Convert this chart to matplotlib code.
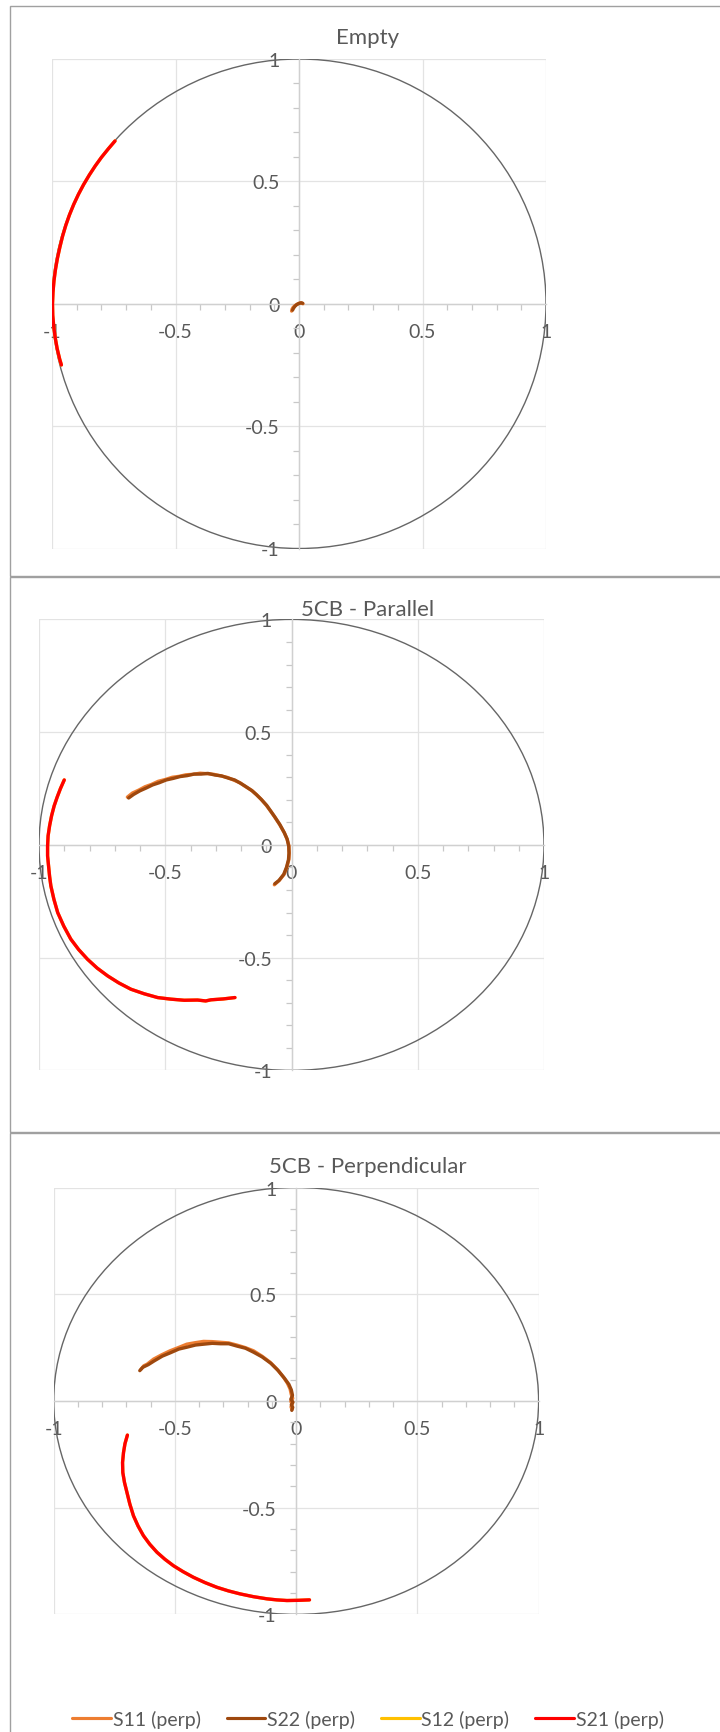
import matplotlib
matplotlib.use("Agg")
import matplotlib.pyplot as plt
from matplotlib.patches import Circle, Rectangle
from matplotlib.ticker import MultipleLocator

TITLES = ["Empty", "5CB - Parallel", "5CB - Perpendicular"]
SERIES = ["S11 (perp)", "S22 (perp)", "S12 (perp)", "S21 (perp)"]
COLORS = ["#ED7D31", "#9E480E", "#FFC000", "#FF0000"]
TICKS = [-1, -0.5, 0, 0.5, 1]
TICK_LABELS = ["-1", "-0.5", "0", "0.5", "1"]

# Panel 1: Empty
EMPTY_S11_RE = [-0.030, -0.028, -0.024, -0.018, -0.011, -0.004, 0.003, 0.010, 0.016]
EMPTY_S11_IM = [-0.030, -0.022, -0.015, -0.009, -0.004, 0.000, 0.003, 0.003, 0.000]
EMPTY_S22_RE = [-0.026, -0.022, -0.017, -0.011, -0.005, 0.002, 0.009, 0.015]
EMPTY_S22_IM = [-0.026, -0.018, -0.011, -0.005, -0.001, 0.002, 0.004, 0.002]
EMPTY_S21_RE = [-0.745, -0.772, -0.800, -0.825, -0.849, -0.872, -0.893, -0.912, -0.929,
                -0.944, -0.957, -0.968, -0.978, -0.986, -0.992, -0.996, -0.998, -0.997,
                -0.993, -0.987, -0.979, -0.969, -0.962]
EMPTY_S21_IM = [0.665, 0.633, 0.598, 0.563, 0.526, 0.487, 0.447, 0.406, 0.364,
                0.321, 0.277, 0.232, 0.186, 0.140, 0.094, 0.047, 0.000, -0.047,
                -0.093, -0.139, -0.184, -0.226, -0.250]
EMPTY_S12_RE = list(EMPTY_S21_RE)
EMPTY_S12_IM = list(EMPTY_S21_IM)

# Panel 2: 5CB - Parallel
PAR_S11_RE = [-0.650, -0.630, -0.605, -0.580, -0.555, -0.528, -0.500, -0.472, -0.445,
              -0.418, -0.390, -0.362, -0.335, -0.308, -0.280, -0.253, -0.228, -0.203,
              -0.187, -0.158, -0.140, -0.121, -0.100, -0.083, -0.068, -0.048, -0.029,
              -0.018, -0.010, -0.009, -0.010, -0.018, -0.029, -0.048, -0.068]
PAR_S11_IM = [0.212, 0.230, 0.243, 0.258, 0.268, 0.282, 0.290, 0.300, 0.304,
              0.311, 0.313, 0.318, 0.316, 0.313, 0.306, 0.299, 0.287, 0.275,
              0.262, 0.242, 0.224, 0.203, 0.176, 0.150, 0.126, 0.092, 0.055,
              0.027, -0.004, -0.035, -0.063, -0.098, -0.130, -0.157, -0.177]
PAR_S22_RE = [-0.645, -0.625, -0.600, -0.576, -0.550, -0.523, -0.496, -0.468, -0.441,
              -0.414, -0.386, -0.358, -0.331, -0.304, -0.277, -0.250, -0.225, -0.200,
              -0.184, -0.156, -0.138, -0.119, -0.098, -0.081, -0.066, -0.046, -0.028,
              -0.017, -0.011, -0.010, -0.012, -0.020, -0.031, -0.050, -0.066]
PAR_S22_IM = [0.208, 0.224, 0.240, 0.252, 0.266, 0.276, 0.288, 0.295, 0.303,
              0.307, 0.314, 0.314, 0.317, 0.310, 0.306, 0.296, 0.288, 0.272,
              0.261, 0.240, 0.222, 0.201, 0.175, 0.148, 0.124, 0.090, 0.053,
              0.025, -0.006, -0.037, -0.066, -0.100, -0.131, -0.158, -0.172]
PAR_S21_RE = [-0.900, -0.915, -0.928, -0.940, -0.950, -0.958, -0.964, -0.966, -0.966,
              -0.962, -0.958, -0.953, -0.941, -0.926, -0.902, -0.874, -0.843, -0.808,
              -0.770, -0.728, -0.684, -0.636, -0.584, -0.530, -0.478, -0.425, -0.372,
              -0.340, -0.319, -0.270, -0.224]
PAR_S21_IM = [0.288, 0.250, 0.212, 0.173, 0.130, 0.085, 0.040, -0.005, -0.049,
              -0.095, -0.140, -0.182, -0.241, -0.300, -0.360, -0.418, -0.464, -0.507,
              -0.546, -0.581, -0.612, -0.640, -0.660, -0.677, -0.684, -0.689, -0.688,
              -0.692, -0.687, -0.683, -0.677]
PAR_S12_RE = list(PAR_S21_RE)
PAR_S12_IM = list(PAR_S21_IM)

# Panel 3: 5CB - Perpendicular
PERP_S11_RE = [-0.640, -0.628, -0.615, -0.588, -0.555, -0.520, -0.486, -0.451, -0.416,
               -0.382, -0.347, -0.313, -0.279, -0.245, -0.210, -0.176, -0.141, -0.107,
               -0.078, -0.052, -0.036, -0.025, -0.020, -0.014, -0.022, -0.016, -0.021, -0.017]
PERP_S11_IM = [0.149, 0.165, 0.172, 0.196, 0.216, 0.235, 0.250, 0.266, 0.273,
               0.279, 0.278, 0.275, 0.272, 0.262, 0.250, 0.235, 0.210, 0.181,
               0.148, 0.111, 0.083, 0.056, 0.030, 0.012, -0.002, -0.015, -0.028, -0.040]
PERP_S22_RE = [-0.645, -0.632, -0.610, -0.585, -0.552, -0.518, -0.484, -0.450, -0.415,
               -0.381, -0.346, -0.312, -0.278, -0.244, -0.209, -0.175, -0.140, -0.104,
               -0.074, -0.048, -0.030, -0.020, -0.015, -0.022, -0.013, -0.020, -0.014, -0.018]
PERP_S22_IM = [0.142, 0.158, 0.170, 0.188, 0.210, 0.226, 0.243, 0.252, 0.262,
               0.266, 0.270, 0.268, 0.268, 0.257, 0.247, 0.228, 0.206, 0.176,
               0.142, 0.106, 0.078, 0.052, 0.026, 0.008, -0.006, -0.018, -0.030, -0.044]
PERP_S21_RE = [-0.696, -0.706, -0.712, -0.716, -0.715, -0.708, -0.698, -0.686, -0.671,
               -0.652, -0.630, -0.604, -0.574, -0.541, -0.506, -0.466, -0.424, -0.376,
               -0.327, -0.279, -0.231, -0.176, -0.121, -0.080, -0.038, 0.010, 0.055]
PERP_S21_IM = [-0.160, -0.200, -0.241, -0.288, -0.335, -0.382, -0.428, -0.483, -0.538,
               -0.586, -0.631, -0.671, -0.709, -0.742, -0.772, -0.800, -0.826, -0.851,
               -0.873, -0.890, -0.904, -0.917, -0.927, -0.932, -0.935, -0.934, -0.932]
PERP_S12_RE = list(PERP_S21_RE)
PERP_S12_IM = list(PERP_S21_IM)

# ---------------- layout (pixels) ----------------
W, H = 720, 1733
plt.rcParams["font.family"] = ["Lato", "DejaVu Sans"]
fig = plt.figure(figsize=(W / 100, H / 100), dpi=100)

frames = [(10, 7, 577), (10, 578, 1133), (10, 1134, 1760)]          # left, top, bottom
plot_boxes = [(52, 60, 546, 549.5), (39, 620.4, 544, 1071.4), (53.7, 1188.5, 538.6, 1615.4)]
title_y = [38, 609.6, 1167]

panel_data = [
    [(EMPTY_S11_RE, EMPTY_S11_IM), (EMPTY_S22_RE, EMPTY_S22_IM),
     (EMPTY_S12_RE, EMPTY_S12_IM), (EMPTY_S21_RE, EMPTY_S21_IM)],
    [(PAR_S11_RE, PAR_S11_IM), (PAR_S22_RE, PAR_S22_IM),
     (PAR_S12_RE, PAR_S12_IM), (PAR_S21_RE, PAR_S21_IM)],
    [(PERP_S11_RE, PERP_S11_IM), (PERP_S22_RE, PERP_S22_IM),
     (PERP_S12_RE, PERP_S12_IM), (PERP_S21_RE, PERP_S21_IM)],
]

GRAY_TXT = "#595959"
handles = None
for i in range(3):
    fl, ft, fb = frames[i]
    fig.patches.append(Rectangle((fl / W, 1 - fb / H), 800 / W, (fb - ft) / H,
                                 transform=fig.transFigure, fill=False,
                                 edgecolor="#a0a0a0", lw=1.0))
    l, t, r, b = plot_boxes[i]
    ax = fig.add_axes([l / W, 1 - b / H, (r - l) / W, (b - t) / H])
    ax.set_xlim(-1, 1)
    ax.set_ylim(-1, 1)
    for s in ["top", "right"]:
        ax.spines[s].set_visible(False)
    for s in ["left", "bottom"]:
        ax.spines[s].set_position(("data", 0))
        ax.spines[s].set_color("#D0D0D0")
        ax.spines[s].set_linewidth(1.0)
    ax.set_xticks(TICKS)
    ax.set_yticks(TICKS)
    ax.set_xticklabels(TICK_LABELS)
    ax.set_yticklabels(TICK_LABELS)
    ax.xaxis.set_minor_locator(MultipleLocator(0.1))
    ax.yaxis.set_minor_locator(MultipleLocator(0.1))
    ax.tick_params(which="major", length=0, labelsize=14, labelcolor=GRAY_TXT)
    ax.tick_params(axis="x", which="major", pad=14)
    ax.tick_params(axis="y", which="major", pad=14)
    ax.tick_params(which="minor", length=4.5, width=0.9, direction="out", color="#C8C8C8")
    ax.grid(True, which="major", color="#E3E3E3", lw=0.9)
    ax.set_axisbelow(True)
    ax.add_patch(Circle((0, 0), 1, fill=False, edgecolor="#666666", lw=1.0, zorder=2.5))
    lines = []
    for k, (re, im) in enumerate(panel_data[i]):
        ln, = ax.plot(re, im, color=COLORS[k], lw=2.4, zorder=3 + k,
                      solid_capstyle="round", label=SERIES[k])
        lines.append(ln)
    handles = lines
    fig.text(368 / W, 1 - title_y[i] / H, TITLES[i], ha="center", va="center",
             fontsize=16, color=GRAY_TXT)

leg = fig.legend(handles, SERIES, loc="center", bbox_to_anchor=(368 / W, 1 - 1720 / H),
                 ncol=4, frameon=False, fontsize=14, handlelength=2.0,
                 handletextpad=0.1, columnspacing=1.3, labelcolor=GRAY_TXT)
for h in leg.legend_handles:
    h.set_linewidth(2.25)

fig.savefig("out.png", dpi=100)
